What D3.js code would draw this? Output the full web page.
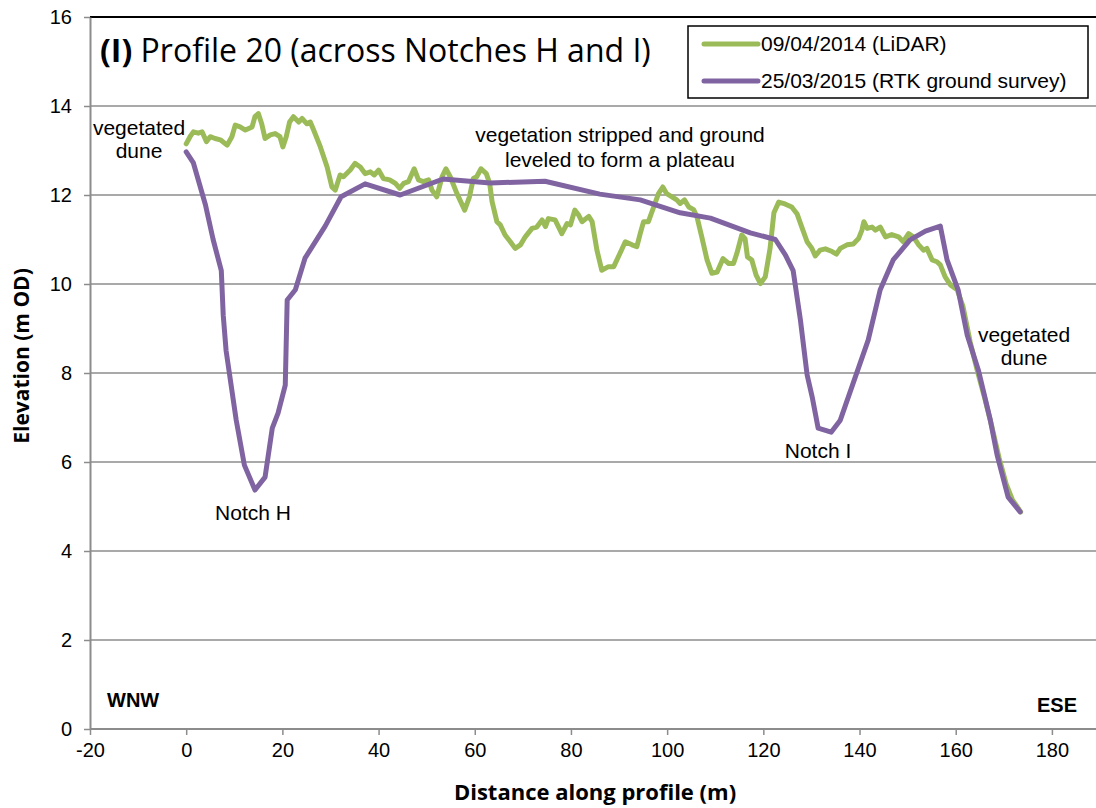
<!DOCTYPE html>
<html>
<head>
  <meta charset="UTF-8">
  <title>Profile 20 (across Notches H and I)</title>
  <style>
    body { margin: 0; background: #fff; }
  </style>
</head>
<body>
  <svg id="svg1"></svg>

  <script src="https://cdn.jsdelivr.net/npm/d3@7"></script>
  <script>
    // chart data
    var lidarDist = [0, 0.8, 1.5, 2.5, 3.3, 4.2, 5, 6, 7.1, 8.5, 9.5, 10.2, 11.2, 12.3, 13.7, 14.3, 15, 15.7, 16.4, 17.5,
      18.5, 19.5, 20.1, 20.8, 21.5, 22.3, 23.4, 24.1, 25.1, 25.8, 26.5, 27.9, 29.3, 30.3, 31, 32, 32.7, 34.1, 35.1, 36.2,
      37.2, 38.3, 39.1, 40, 41, 42.3, 43.5, 44.4, 45.2, 46.2, 47.4, 48.3, 49.3, 50.4, 51.1, 52.1, 53.2, 54, 54.9, 56.3,
      57.9, 58.9, 59.7, 60.4, 61.3, 62.4, 63.1, 63.6, 64.6, 65.3, 66.3, 67.4, 68.4, 69.5, 70.5, 71.9, 72.9, 74, 74.7, 75.3,
      76.7, 78.1, 79.2, 79.9, 80.8, 81.6, 82.3, 83.7, 84.4, 85.4, 86.4, 87.8, 88.9, 90.2, 91.3, 92.7, 93.7, 94.4, 95.1, 96.1,
      97.2, 98.2, 99.1, 99.9, 101, 102, 102.7, 103.6, 104.5, 105.5, 106.2, 107.2, 108.3, 109.3, 110.4, 111.6, 112.8, 113.8, 114.5, 115.5,
      116.2, 116.7, 117.6, 118.5, 119.4, 120.4, 121.4, 122.2, 123.2, 124.5, 125.9, 127, 128, 129.1, 130.1, 130.8, 131.8, 132.9, 134.3, 135.2,
      136, 137.4, 138.7, 139.8, 140.5, 140.9, 141.6, 142.6, 143.3, 144.3, 145.4, 146.7, 148.1, 149.1, 150.2, 151.2, 152.3, 153.3, 154, 155.1,
      156.1, 156.8, 157.8, 158.9, 160.3, 161.5, 163, 164.5, 166, 167.5, 169, 170.5, 171.8, 173.5];
    var lidarElev = [13.15, 13.31, 13.42, 13.39, 13.42, 13.2, 13.31, 13.27, 13.24, 13.12, 13.31, 13.57, 13.53, 13.46, 13.53, 13.76, 13.83, 13.6, 13.27, 13.35,
      13.38, 13.31, 13.08, 13.31, 13.64, 13.76, 13.64, 13.72, 13.6, 13.64, 13.46, 13.08, 12.63, 12.18, 12.11, 12.45, 12.41, 12.56, 12.71, 12.63,
      12.48, 12.52, 12.45, 12.56, 12.37, 12.34, 12.26, 12.15, 12.26, 12.3, 12.59, 12.34, 12.3, 12.34, 12.11, 11.96, 12.41, 12.59, 12.41, 12.03,
      11.66, 11.96, 12.37, 12.41, 12.59, 12.48, 12.26, 11.85, 11.4, 11.33, 11.1, 10.95, 10.8, 10.88, 11.06, 11.25, 11.28, 11.44, 11.29, 11.47,
      11.44, 11.13, 11.36, 11.33, 11.66, 11.55, 11.4, 11.52, 11.4, 10.76, 10.31, 10.39, 10.39, 10.69, 10.95, 10.88, 10.84, 11.13, 11.4, 11.4,
      11.73, 12.03, 12.18, 12.03, 11.96, 11.89, 11.81, 11.89, 11.73, 11.67, 11.51, 11.06, 10.54, 10.24, 10.27, 10.57, 10.46, 10.46, 10.69, 11.1,
      11.02, 10.61, 10.54, 10.2, 10.01, 10.16, 10.8, 11.6, 11.84, 11.8, 11.73, 11.58, 11.28, 10.95, 10.8, 10.63, 10.76, 10.79, 10.73, 10.67,
      10.8, 10.88, 10.9, 11.02, 11.21, 11.4, 11.25, 11.28, 11.21, 11.28, 11.06, 11.11, 11.06, 10.95, 11.13, 11.06, 10.88, 10.76, 10.8, 10.54,
      10.5, 10.43, 10.16, 9.98, 9.87, 9.5, 8.7, 8.05, 7.45, 6.8, 6.1, 5.5, 5.15, 4.88];

    var rtkDist = [0, 1.5, 4, 5.6, 7.3, 7.7, 8.3, 10.4, 12.1, 14.3, 16.4, 17.9, 19.1, 20.6, 21, 22.7, 24.7, 28.9, 32.2, 37.2,
      44.5, 53.4, 63.2, 74.6, 86, 94.4, 102.7, 109, 117.3, 122.5, 124.6, 126.2, 127.7, 129.1, 130.2, 131.4, 134.1, 136, 141.8, 144.3,
      147, 150.5, 153.7, 156.8, 158.2, 160.5, 162.4, 164.7, 167.2, 168.6, 170.9, 173.4];
    var rtkElev = [12.97, 12.72, 11.78, 11.0, 10.3, 9.3, 8.5, 6.94, 5.93, 5.37, 5.66, 6.76, 7.1, 7.73, 9.64, 9.87, 10.58, 11.3, 11.96, 12.25,
      12.0, 12.36, 12.27, 12.31, 12.02, 11.89, 11.6, 11.48, 11.15, 11.0, 10.65, 10.3, 9.2, 7.96, 7.44, 6.76, 6.67, 6.94, 8.74, 9.87,
      10.54, 10.99, 11.19, 11.3, 10.54, 9.87, 8.85, 8.07, 6.94, 6.16, 5.21, 4.88];

    var xTicks = [-20, 0, 20, 40, 60, 80, 100, 120, 140, 160, 180];
    var yTicks = [0, 2, 4, 6, 8, 10, 12, 14, 16];
    var seriesNames = ["09/04/2014 (LiDAR)", "25/03/2015 (RTK ground survey)"];
    var seriesColors = ["#9bbb59", "#8064a2"];

    var width = 1096;
    var height = 808;
    var sans = "Liberation Sans, Arial, sans-serif";
    var calibriLike = "Open Sans, sans-serif";

    var svg = d3.select("#svg1")
      .attr("width", width)
      .attr("height", height)
      .attr("font-family", sans);

    // scales
    var x = d3.scaleLinear().domain([-20, 190]).range([90, 1100]);
    var y = d3.scaleLinear().domain([0, 16]).range([729, 17]);

    // gridlines
    svg.append("g").attr("id", "grid")
      .selectAll("line")
      .data(yTicks.filter(function(d) { return d > 0; }))
      .enter().append("line")
      .attr("x1", x(-20)).attr("x2", width)
      .attr("y1", function(d) { return y(d); })
      .attr("y2", function(d) { return y(d); })
      .attr("stroke", function(d) { return d === 16 ? "#000" : "#8c8c8c"; })
      .attr("stroke-width", function(d) { return d === 16 ? 2 : 1.5; });

    // axes (plain hyphen for negatives, as in the original)
    var plain = function(d) { return String(d); };
    var xAxis = d3.axisBottom(x).tickValues(xTicks).tickFormat(plain).tickSize(6).tickSizeOuter(0).tickPadding(8);
    var yAxis = d3.axisLeft(y).tickValues(yTicks).tickFormat(plain).tickSize(6).tickSizeOuter(0).tickPadding(12);

    var gx = svg.append("g").attr("id", "x_axis")
      .attr("transform", "translate(0," + y(0) + ")")
      .call(xAxis);
    var gy = svg.append("g").attr("id", "y_axis")
      .attr("transform", "translate(" + x(-20) + ",0)")
      .call(yAxis);

    [gx, gy].forEach(function(g) {
      g.attr("font-family", sans).attr("font-size", 20);
      g.select(".domain").attr("stroke", "#8c8c8c").attr("stroke-width", 2);
      g.selectAll(".tick line").attr("stroke", "#8c8c8c").attr("stroke-width", 1.5);
      g.selectAll(".tick text").attr("fill", "#000");
    });
    gx.select(".domain").attr("d", "M" + x(-20) + ",0H" + width);

    // lines
    var line = d3.line()
      .x(function(d) { return x(d[0]); })
      .y(function(d) { return y(d[1]); });

    var lidar = d3.zip(lidarDist, lidarElev);
    var rtk = d3.zip(rtkDist, rtkElev);

    svg.append("path").datum(lidar)
      .attr("d", line)
      .attr("fill", "none")
      .attr("stroke", seriesColors[0])
      .attr("stroke-width", 5)
      .attr("stroke-linejoin", "round")
      .attr("stroke-linecap", "round");

    svg.append("path").datum(rtk)
      .attr("d", line)
      .attr("fill", "none")
      .attr("stroke", seriesColors[1])
      .attr("stroke-width", 5)
      .attr("stroke-linejoin", "round")
      .attr("stroke-linecap", "round");

    // title
    var title = svg.append("text")
      .attr("x", 100).attr("y", 62)
      .attr("font-family", calibriLike)
      .attr("font-size", 32)
      .attr("fill", "#000");
    title.append("tspan").attr("font-weight", "bold").text("(I)");
    title.append("tspan").text(" Profile 20 (across Notches H and I)");

    // legend
    var legend = svg.append("g").attr("id", "legend");
    legend.append("rect")
      .attr("x", 688).attr("y", 26).attr("width", 400).attr("height", 72)
      .attr("fill", "#fff").attr("stroke", "#000").attr("stroke-width", 1.5);
    seriesNames.forEach(function(name, i) {
      var ly = 44 + i * 37;
      legend.append("line")
        .attr("x1", 704).attr("x2", 758).attr("y1", ly).attr("y2", ly)
        .attr("stroke", seriesColors[i]).attr("stroke-width", 5).attr("stroke-linecap", "round");
      legend.append("text")
        .attr("x", 761).attr("y", ly + 7)
        .attr("font-size", 21)
        .text(name);
    });

    // annotations
    function note(lines, cx, baseline, step) {
      var t = svg.append("text").attr("text-anchor", "middle").attr("font-size", 21);
      lines.forEach(function(s, i) {
        t.append("tspan").attr("x", cx).attr("y", baseline + i * step).text(s);
      });
    }
    note(["vegetated", "dune"], 139, 135, 23);
    note(["vegetation stripped and ground", "leveled to form a plateau"], 620, 142, 25);
    note(["Notch H"], 253, 520, 0);
    note(["Notch I"], 818, 458, 0);
    note(["vegetated", "dune"], 1024, 342, 23);

    svg.append("text").attr("x", 107).attr("y", 707)
      .attr("font-size", 20).attr("font-weight", "bold").text("WNW");
    svg.append("text").attr("x", 1077).attr("y", 712).attr("text-anchor", "end")
      .attr("font-size", 20).attr("font-weight", "bold").text("ESE");

    // axis titles
    svg.append("text")
      .attr("x", 595).attr("y", 800)
      .attr("text-anchor", "middle")
      .attr("font-family", calibriLike)
      .attr("font-weight", "bold")
      .attr("font-size", 22)
      .text("Distance along profile (m)");

    svg.append("text")
      .attr("transform", "translate(29,356) rotate(-90)")
      .attr("text-anchor", "middle")
      .attr("font-family", calibriLike)
      .attr("font-weight", "bold")
      .attr("font-size", 21)
      .text("Elevation (m OD)");
  </script>
</body>
</html>
